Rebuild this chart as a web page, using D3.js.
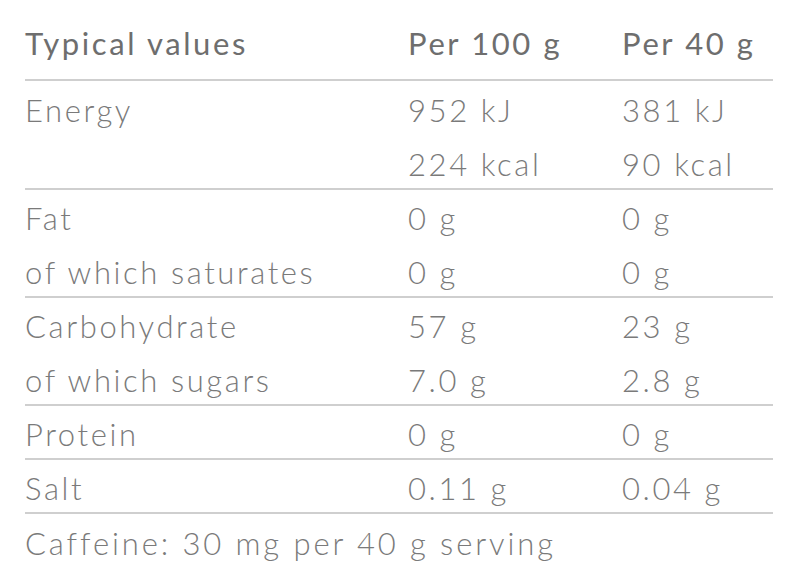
<!DOCTYPE html>
<html><head><meta charset="utf-8">
<script src="https://cdn.jsdelivr.net/npm/d3@7"></script>
<style>body{margin:0;background:#fff}</style></head>
<body><svg id="c" width="800" height="568"></svg>
<script>
const headers = ["Typical values", "Per 100 g", "Per 40 g"];
const labels = ["Energy", "", "Fat", "of which saturates", "Carbohydrate", "of which sugars", "Protein", "Salt"];
const per100 = ["952 kJ", "224 kcal", "0 g", "0 g", "57 g", "7.0 g", "0 g", "0.11 g"];
const per40 = ["381 kJ", "90 kcal", "0 g", "0 g", "23 g", "2.8 g", "0 g", "0.04 g"];
const groupEnds = [1, 3, 5, 6, 7];
const footnote = "Caffeine: 30 mg per 40 g serving";

const svg = d3.select("#c");
const x = d3.scaleOrdinal().domain([0,1,2]).range([25, 408, 622]);
const y = d3.scaleLinear().domain([0, 1]).range([122, 176]);
const font = "Lato, 'Open Sans', sans-serif";
const col = "#7a7a7a";
const ls = 2.6;

svg.selectAll("text.h").data(headers).join("text")
  .attr("x", (d,i)=>x(i)).attr("y", 55).text(d=>d)
  .attr("font-family", font).attr("font-size", 31).attr("font-weight", 400)
  .attr("letter-spacing", ls).attr("fill", "#6e6e6e");

const rows = labels.map((l,i)=>[l, per100[i], per40[i]]);
rows.forEach((r,i)=>{
  r.forEach((t,j)=>{
    svg.append("text").attr("x", x(j)).attr("y", y(i)).text(t)
      .attr("font-family", font).attr("font-size", 31).attr("font-weight", 300)
      .attr("letter-spacing", ls).attr("fill", col);
  });
});
svg.append("text").attr("x", 25).attr("y", y(8)+1).text(footnote)
  .attr("font-family", font).attr("font-size", 31).attr("font-weight", 300)
  .attr("letter-spacing", ls + 0.3).attr("fill", col);

const lineYs = [80].concat(groupEnds.map(i => y(i) + 13));
svg.selectAll("line").data(lineYs).join("line")
  .attr("x1", 25).attr("x2", 773).attr("y1", d=>d).attr("y2", d=>d)
  .attr("stroke", "#cfcfcf").attr("stroke-width", 2);
</script></body></html>
